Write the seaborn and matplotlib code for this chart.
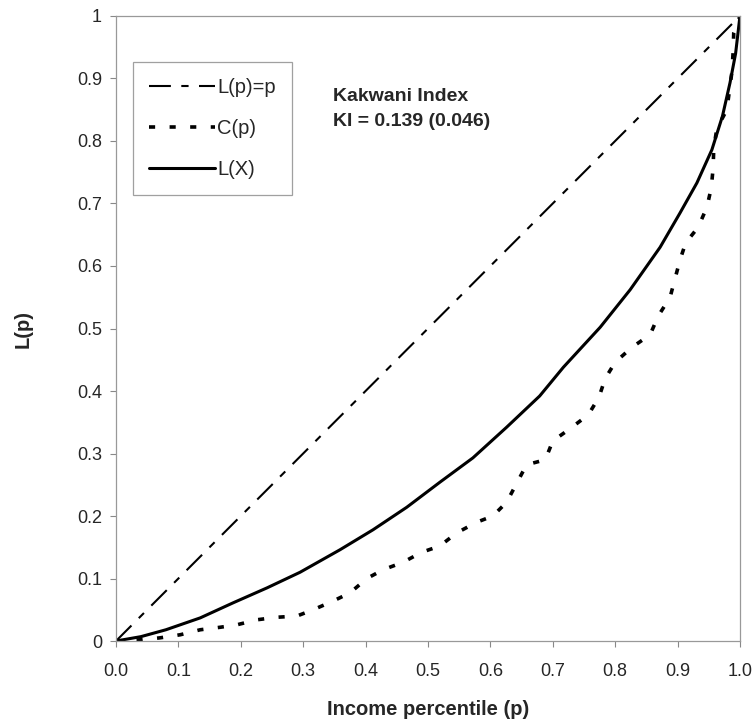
import matplotlib
matplotlib.use("Agg")
import matplotlib.pyplot as plt
import seaborn as sns
import pandas as pd

# ---- data ----
p_eq = [0.0, 1.0]
L_eq = [0.0, 1.0]

p_lx = [0, 0.04, 0.08, 0.135, 0.1875, 0.242, 0.295, 0.359, 0.412, 0.466, 0.519,
        0.572, 0.626, 0.679, 0.717, 0.776, 0.824, 0.872, 0.904, 0.931, 0.955,
        0.972, 0.984, 0.993, 1.0]
L_x = [0, 0.007, 0.018, 0.037, 0.061, 0.085, 0.110, 0.146, 0.178, 0.214, 0.254,
       0.293, 0.342, 0.392, 0.438, 0.502, 0.562, 0.630, 0.685, 0.733, 0.786,
       0.840, 0.893, 0.940, 1.0]

p_c = [0, 0.04, 0.07, 0.103, 0.135, 0.167, 0.194, 0.226, 0.258, 0.29,
       0.316, 0.348, 0.375, 0.402, 0.428, 0.46, 0.49, 0.519, 0.546, 0.578,
       0.604, 0.626, 0.642, 0.658, 0.688, 0.70, 0.728, 0.757, 0.774, 0.784,
       0.80, 0.827, 0.856, 0.869, 0.888, 0.904, 0.913, 0.933, 0.947, 0.954,
       0.957, 0.958, 0.963, 0.979, 0.987, 0.989, 0.99, 1.0]
C_p = [0, 0.002, 0.005, 0.01, 0.018, 0.022, 0.026, 0.034, 0.038, 0.04,
       0.05, 0.064, 0.077, 0.10, 0.114, 0.126, 0.142, 0.152, 0.173, 0.19,
       0.2, 0.222, 0.252, 0.282, 0.29, 0.32, 0.34, 0.362, 0.39, 0.42,
       0.446, 0.47, 0.49, 0.52, 0.55, 0.61, 0.637, 0.662, 0.694, 0.725,
       0.757, 0.789, 0.82, 0.85, 0.91, 0.942, 0.973, 1.0]

series_labels = ["L(p)=p", "C(p)", "L(X)"]
x_ticks = [0.0, 0.1, 0.2, 0.3, 0.4, 0.5, 0.6, 0.7, 0.8, 0.9, 1.0]
x_ticklabels = ["0.0", "0.1", "0.2", "0.3", "0.4", "0.5", "0.6", "0.7", "0.8", "0.9", "1.0"]
y_ticks = [0.0, 0.1, 0.2, 0.3, 0.4, 0.5, 0.6, 0.7, 0.8, 0.9, 1.0]
y_ticklabels = ["0", "0.1", "0.2", "0.3", "0.4", "0.5", "0.6", "0.7", "0.8", "0.9", "1"]
annot_text = "Kakwani Index\nKI = 0.139 (0.046)"
x_title = "Income percentile (p)"
y_title = "L(p)"

# ---- plot ----
sns.set_style("white")
plt.rcParams["font.family"] = ["Liberation Sans", "DejaVu Sans"]

fig = plt.figure(figsize=(7.56, 7.2), dpi=100)
ax = fig.add_axes([0.1534, 0.1097, 0.8254, 0.8681])

df_eq = pd.DataFrame({"p": p_eq, "L": L_eq})
df_c = pd.DataFrame({"p": p_c, "L": C_p})
df_x = pd.DataFrame({"p": p_lx, "L": L_x})

sns.lineplot(data=df_eq, x="p", y="L", ax=ax, color="black", lw=1.5,
             estimator=None, sort=False, label=series_labels[0])
ax.lines[-1].set_dashes((10.5, 5, 3.5, 5))
sns.lineplot(data=df_c, x="p", y="L", ax=ax, color="black", lw=2.6,
             estimator=None, sort=False, label=series_labels[1])
ax.lines[-1].set_dashes((1.7, 4))
sns.lineplot(data=df_x, x="p", y="L", ax=ax, color="black", lw=2.2,
             estimator=None, sort=False, label=series_labels[2])

ax.set_xlim(0, 1.0)
ax.set_ylim(0, 1.0)
ax.set_xticks(x_ticks)
ax.set_xticklabels(x_ticklabels)
ax.set_yticks(y_ticks)
ax.set_yticklabels(y_ticklabels)
ax.tick_params(axis="both", which="major", labelsize=13, length=4, width=0.8,
               color="#888888", direction="out", bottom=True, left=True, pad=6)
ax.tick_params(axis="x", pad=12)

for s in ax.spines.values():
    s.set_color("#999999")
    s.set_linewidth(0.9)

ax.set_xlabel(x_title, fontsize=14.5, fontweight="bold", labelpad=14)
ax.set_ylabel(y_title, fontsize=14.5, fontweight="bold", labelpad=32)

leg = ax.legend(loc="upper left", bbox_to_anchor=(0.027, 0.926), fontsize=14.5,
                frameon=True, handlelength=3.3, handletextpad=0.1,
                labelspacing=1.08, borderpad=0.8, borderaxespad=0.0,
                fancybox=False)
leg.get_frame().set_edgecolor("#888888")
leg.get_frame().set_linewidth(0.9)

ax.text(0.348, 0.884, annot_text, transform=ax.transAxes, fontsize=14,
        fontweight="bold", va="top", ha="left", linespacing=1.55)

fig.savefig("out.png", dpi=100)
